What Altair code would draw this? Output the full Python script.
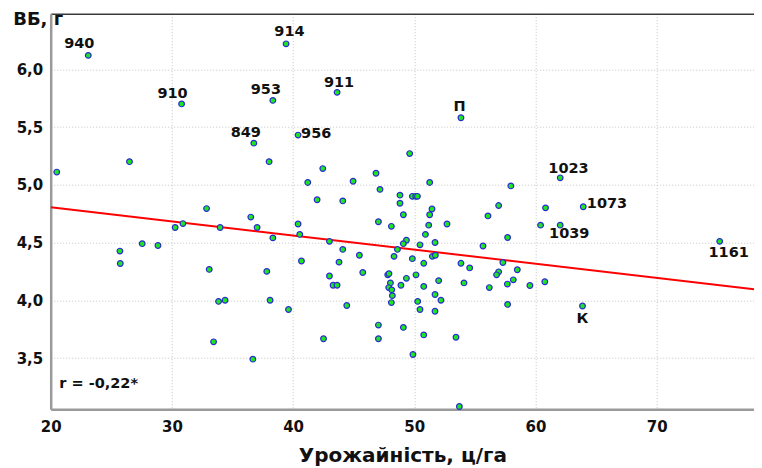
import altair as alt
import pandas as pd

# ---- data ----
label_names = ["940", "910", "849", "914", "953", "911", "П", "956",
               "1023", "1073", "1039", "1161", "К"]
label_x = [23.1, 30.8, 36.76, 39.42, 38.33, 43.63, 53.85, 40.41,
           62.04, 63.94, 62.04, 75.2, 63.88]
label_y = [6.12, 5.70, 5.36, 6.22, 5.73, 5.80, 5.58, 5.43,
           5.06, 4.81, 4.65, 4.51, 3.95]

other_x = [20.5, 26.5, 38.02, 42.45, 49.62, 41.21, 44.95, 46.84, 51.27, 47.17,
           41.98, 44.10, 48.82, 49.84, 50.12, 50.26, 48.82, 51.46, 49.10, 51.27,
           36.51, 47.04, 48.11, 51.19, 52.70, 40.41, 37.03, 40.55, 38.33, 50.92,
           56.08, 49.35, 49.10, 51.71, 50.47, 43.0, 48.61, 44.10, 45.47, 48.33,
           51.49, 51.74, 49.84, 40.69, 43.79, 50.78, 53.85, 54.57, 55.67, 37.83,
           45.75, 43.0, 47.81, 47.91, 50.14, 43.30, 43.63, 49.35, 48.03, 48.90,
           52.01, 54.10, 50.78, 56.19, 47.89, 48.14, 48.19, 51.71, 38.10, 48.11,
           50.28, 52.20, 44.43, 39.62, 50.47, 51.71, 47.04, 49.10, 42.51, 47.04,
           50.78, 53.44, 49.89, 36.68, 53.72,
           25.71, 25.74, 27.55, 28.85, 30.27, 30.91, 32.86, 33.98, 33.08, 33.85,
           34.39, 33.44,
           57.97, 56.96, 60.83, 60.42, 57.70, 57.31, 56.96, 56.79, 58.50, 58.17,
           57.68, 59.54, 60.77, 57.70]
other_y = [5.11, 5.20, 5.20, 5.14, 5.27, 5.02, 5.03, 5.10, 5.02, 4.96,
           4.87, 4.86, 4.91, 4.90, 4.90, 4.90, 4.84, 4.79, 4.74, 4.74,
           4.72, 4.68, 4.64, 4.65, 4.66, 4.66, 4.63, 4.57, 4.54, 4.57,
           4.73, 4.52, 4.49, 4.50, 4.48, 4.51, 4.44, 4.44, 4.39, 4.38,
           4.38, 4.39, 4.36, 4.34, 4.33, 4.32, 4.32, 4.28, 4.47, 4.25,
           4.24, 4.21, 4.22, 4.23, 4.22, 4.13, 4.13, 4.19, 4.15, 4.13,
           4.17, 4.15, 4.12, 4.11, 4.11, 4.09, 4.04, 4.05, 4.00, 3.98,
           3.99, 4.00, 3.955, 3.92, 3.92, 3.905, 3.785, 3.765, 3.667, 3.667,
           3.70, 3.68, 3.53, 3.49, 3.08,
           4.426, 4.318, 4.49, 4.474, 4.63, 4.664, 4.794, 4.63, 4.267, 3.99,
           4.00, 3.64,
           4.99, 4.82, 4.80, 4.65, 4.543, 4.327, 4.246, 4.22, 4.264, 4.177,
           4.14, 4.128, 4.16, 3.964]

fit_x = [20.0, 78.03]
fit_y = [4.805, 4.096]

x_ticks = [20, 30, 40, 50, 60, 70]
y_ticks = [3.5, 4.0, 4.5, 5.0, 5.5, 6.0]

x_title = "Урожайність, ц/га"
y_title = "ВБ, г"
r_text = "r = -0,22*"

# ---- tables ----
pts = pd.DataFrame({"x": label_x + other_x, "y": label_y + other_y})
labels = pd.DataFrame({"name": label_names, "x": label_x, "y": label_y})
fit = pd.DataFrame({"x": fit_x, "y": fit_y})

FONT = "DejaVu Sans"
sx = alt.Scale(domain=[20, 78.03], nice=False, zero=False)
sy = alt.Scale(domain=[3.056, 6.481], nice=False, zero=False)

y_axis = alt.Axis(
    values=y_ticks, orient="left",
    labelExpr="replace(format(datum.value, '.1f'), '.', ',')",
    ticks=False, labelPadding=8, labelFontSize=15, labelFlush=False,
    grid=True, gridColor="#c4c4c4", gridDash=[1, 2], gridWidth=1,
    domainColor="#9a9a9a", domainWidth=2.5,
    title=y_title, titleAngle=0, titleX=-38, titleY=6,
    titleAlign="left", titleBaseline="middle", titleFontSize=18,
)
x_axis = alt.Axis(
    values=x_ticks, orient="bottom", format="d",
    ticks=False, labelPadding=10, labelFontSize=15, labelFlush=False,
    grid=True, gridColor="#c4c4c4", gridDash=[1, 2], gridWidth=1,
    domainColor="#9a9a9a", domainWidth=2.5,
    title=x_title, titleY=46, titleBaseline="middle", titleFontSize=20,
)
top_axis = alt.Axis(
    orient="top", labels=False, ticks=False, grid=False, title=None,
    domainColor="#3a3a3a", domainWidth=1.5,
)

line = alt.Chart(fit).mark_line(color="#ff0000", strokeWidth=2, clip=True).encode(
    x=alt.X("x:Q", scale=sx, axis=top_axis),
    y=alt.Y("y:Q", scale=sy, axis=y_axis),
)

points = alt.Chart(pts).mark_circle(
    size=32, color="#1ee61e", opacity=1, stroke="#2a2ad2", strokeWidth=1.2
).encode(
    x=alt.X("x:Q", scale=sx, axis=x_axis),
    y=alt.Y("y:Q", scale=sy, axis=y_axis),
)

specs = [("940", -9, -11, "center"), ("910", -9, -10, "center"),
         ("849", -8, -10.6, "center"), ("914", 3.4, -11.4, "center"),
         ("953", -7, -10.7, "center"), ("911", 2, -9.4, "center"),
         ("П", -1.3, -10.7, "center"), ("956", 3, -1, "left"),
         ("1023", 8.3, -9, "center"), ("1073", 3.6, -2.3, "left"),
         ("1039", 9, 9.3, "center"), ("1161", 9, 11.6, "center"),
         ("К", 0, 12.7, "center")]

text_layers = []
for name, dx, dy, al in specs:
    text_layers.append(
        alt.Chart(labels).transform_filter(alt.datum.name == name).mark_text(
            font=FONT, fontWeight="bold", fontSize=14.5, color="#111111",
            dx=dx, dy=dy, align=al, baseline="middle"
        ).encode(
            x=alt.X("x:Q", scale=sx, axis=None),
            y=alt.Y("y:Q", scale=sy, axis=y_axis),
            text="name:N",
        )
    )

r_layer = alt.Chart(pd.DataFrame({"t": [r_text]})).mark_text(
    font=FONT, fontWeight="bold", fontSize=14.5, color="#111111",
    align="left", baseline="middle"
).encode(x=alt.value(8.6), y=alt.value(370.5), text="t:N")

chart = alt.layer(line, points, *text_layers, r_layer).resolve_axis(
    x="independent"
).properties(
    width=703.3, height=395.6,
    autosize=alt.AutoSizeParams(type="none"),
    padding={"left": 42.7, "top": 5.7, "right": 0, "bottom": 58},
).configure_view(stroke=None).configure_axis(
    labelFont=FONT, labelFontWeight="bold", labelColor="#111111",
    titleFont=FONT, titleFontWeight="bold", titleColor="#111111",
)

chart.save("out.html", embed_options={"renderer": "svg", "actions": False})
